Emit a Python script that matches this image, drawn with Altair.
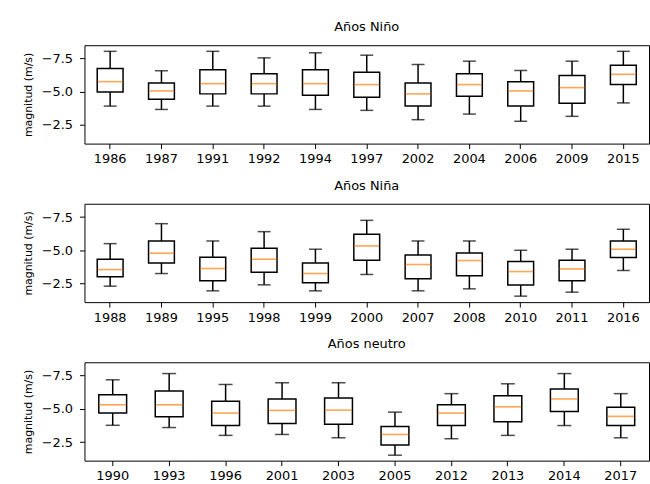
import altair as alt
import pandas as pd

# Wind magnitude (m/s) per year: whisker ends, quartiles and median
nino_years = ["1986", "1987", "1991", "1992", "1994", "1997", "2002", "2004", "2006", "2009", "2015"]
nino_hi = [-8.04, -6.58, -8.04, -7.55, -7.93, -7.75, -7.05, -7.30, -6.60, -7.30, -8.04]
nino_q3 = [-6.75, -5.66, -6.66, -6.36, -6.66, -6.46, -5.66, -6.36, -5.76, -6.23, -7.00]
nino_med = [-5.76, -5.06, -5.61, -5.61, -5.61, -5.54, -4.84, -5.54, -5.06, -5.31, -6.31]
nino_q1 = [-4.99, -4.44, -4.84, -4.84, -4.74, -4.59, -3.92, -4.66, -3.92, -4.14, -5.54]
nino_lo = [-3.92, -3.67, -3.92, -3.92, -3.67, -3.60, -2.90, -3.32, -2.78, -3.15, -4.16]

nina_years = ["1988", "1989", "1995", "1998", "1999", "2000", "2007", "2008", "2010", "2011", "2016"]
nina_hi = [-5.50, -7.00, -5.70, -6.40, -5.08, -7.25, -5.70, -5.70, -5.00, -5.08, -6.58]
nina_q3 = [-4.33, -5.70, -4.48, -5.15, -4.05, -6.20, -4.65, -4.80, -4.15, -4.25, -5.70]
nina_med = [-3.55, -4.78, -3.63, -4.33, -3.25, -5.33, -3.93, -4.23, -3.40, -3.60, -5.08]
nina_q1 = [-3.00, -4.05, -2.70, -3.35, -2.55, -4.25, -2.85, -3.08, -2.38, -2.70, -4.45]
nina_lo = [-2.30, -3.25, -1.95, -2.40, -1.95, -3.18, -1.95, -2.10, -1.55, -1.85, -3.48]

neutro_years = ["1990", "1993", "1996", "2001", "2003", "2005", "2012", "2013", "2014", "2017"]
neutro_hi = [-7.18, -7.65, -6.83, -6.96, -6.96, -4.75, -6.14, -6.88, -7.65, -6.14]
neutro_q3 = [-6.06, -6.34, -5.57, -5.74, -5.82, -3.66, -5.30, -5.99, -6.49, -5.12]
neutro_med = [-5.30, -5.30, -4.68, -4.88, -4.90, -3.07, -4.68, -5.15, -5.74, -4.43]
neutro_q1 = [-4.68, -4.41, -3.74, -3.89, -3.84, -2.28, -3.74, -4.03, -4.80, -3.74]
neutro_lo = [-3.76, -3.59, -3.00, -3.07, -2.82, -1.51, -2.75, -3.00, -3.74, -2.82]

FONT = "DejaVu Sans"
W, H = 568, 99
LINE = "#000000"
ORANGE = "#ff7f0e"
SW = 1.5

y_scale = alt.Scale(domain=[-8.5, -1.1], reverse=True, nice=False, zero=False)
y_axis = alt.Axis(values=[-7.5, -5.0, -2.5], format=".1f", title="magnitud (m/s)",
                  titleFontSize=11, titleFontWeight="normal", titleFont=FONT,
                  titleColor="black", titlePadding=8, labelPadding=7,
                  minExtent=43, maxExtent=43)
x_axis = alt.Axis(title=None, labelAngle=0, labelPadding=4)


def panel(title, years, hi, q3, med, q1, lo, box_w):
    df = pd.DataFrame({"year": years, "hi": hi, "q3": q3, "med": med, "q1": q1, "lo": lo})
    x = alt.X("year:N", sort=None, axis=x_axis,
              scale=alt.Scale(paddingInner=0, paddingOuter=0))
    base = alt.Chart(df).encode(x=x)
    whisk_top = base.mark_rule(color=LINE, strokeWidth=SW).encode(
        y=alt.Y("hi:Q", scale=y_scale, axis=y_axis), y2="q3:Q")
    whisk_bot = base.mark_rule(color=LINE, strokeWidth=SW).encode(
        y=alt.Y("q1:Q", scale=y_scale, axis=y_axis), y2="lo:Q")
    box = base.mark_bar(size=box_w, fill="white", stroke=LINE, strokeWidth=SW).encode(
        y=alt.Y("q3:Q", scale=y_scale, axis=y_axis), y2="q1:Q")
    cap_hi = base.mark_tick(size=box_w / 2, thickness=SW, color=LINE).encode(
        y=alt.Y("hi:Q", scale=y_scale, axis=y_axis))
    cap_lo = base.mark_tick(size=box_w / 2, thickness=SW, color=LINE).encode(
        y=alt.Y("lo:Q", scale=y_scale, axis=y_axis))
    median = base.mark_tick(size=box_w - 1, thickness=1.6, color=ORANGE).encode(
        y=alt.Y("med:Q", scale=y_scale, axis=y_axis))
    return alt.layer(whisk_top, whisk_bot, box, cap_hi, cap_lo, median).properties(
        width=W, height=H,
        title=alt.TitleParams(title, fontSize=13, font=FONT, fontWeight="normal",
                              color="black", anchor="middle", baseline="alphabetic",
                              offset=1),
    )


p1 = panel("Años Niño", nino_years, nino_hi, nino_q3, nino_med, nino_q1, nino_lo, 26)
p2 = panel("Años Niña", nina_years, nina_hi, nina_q3, nina_med, nina_q1, nina_lo, 26)
p3 = panel("Años neutro", neutro_years, neutro_hi, neutro_q3, neutro_med, neutro_q1, neutro_lo, 28)

chart = alt.vconcat(p1, p2, p3, spacing=60.5, bounds="flush").properties(
    padding={"left": 22, "top": 19, "right": 0, "bottom": 0},
    background="white",
).configure_view(
    stroke="black", strokeWidth=1
).configure_axis(
    grid=False, domain=False, tickColor="black", tickSize=5, tickWidth=1,
    labelColor="black", labelFont=FONT, labelFontSize=13,
)

chart.save("out.html", embed_options={"renderer": "svg", "actions": False})
